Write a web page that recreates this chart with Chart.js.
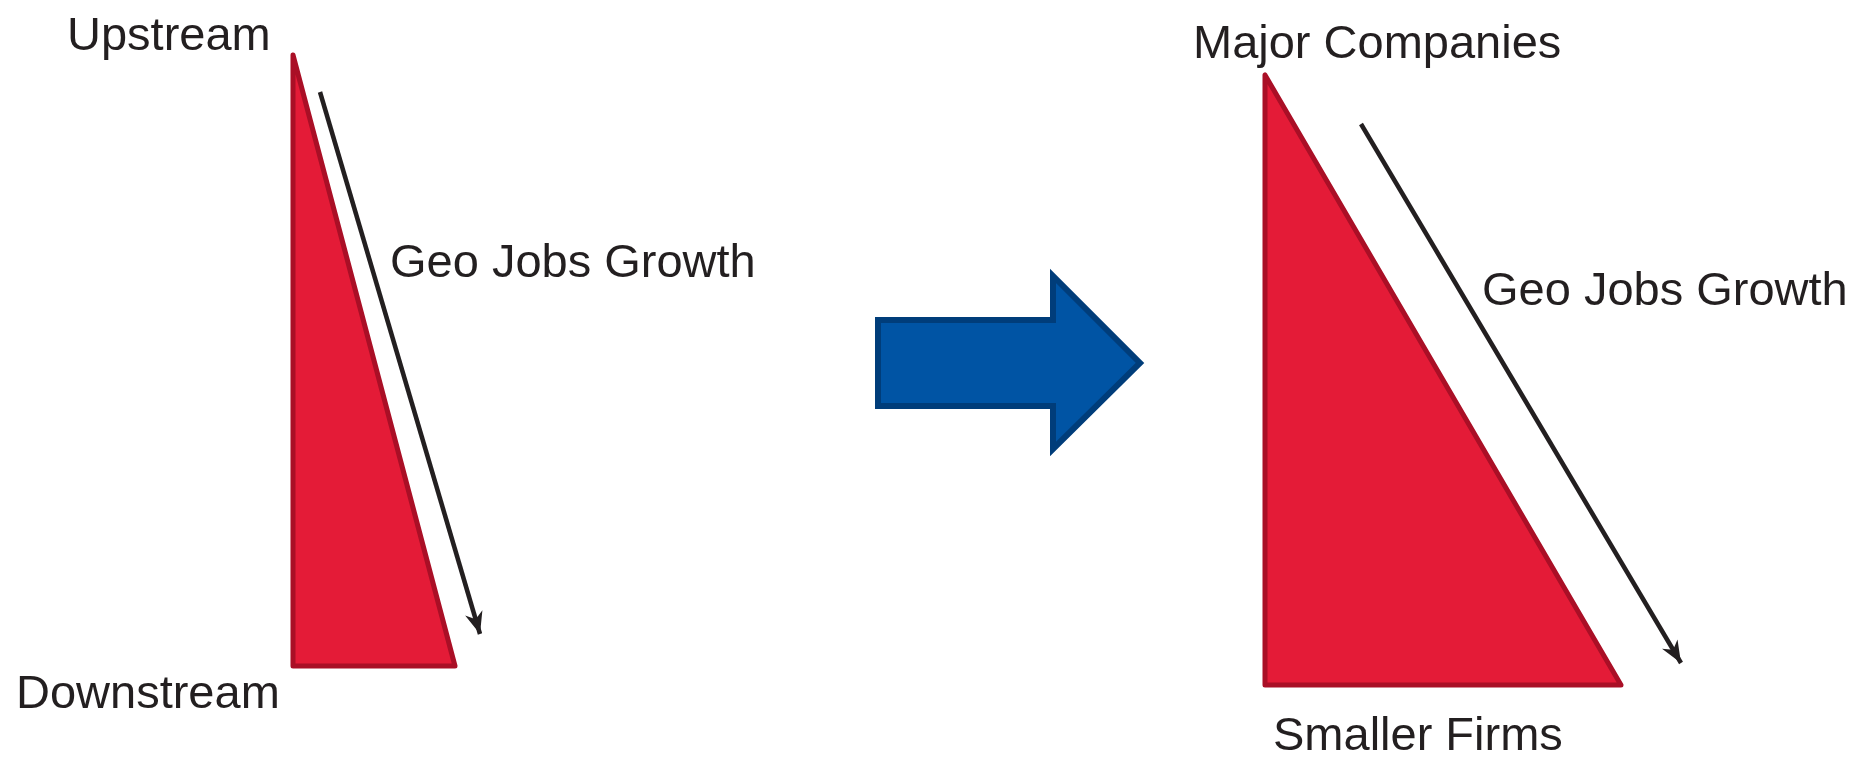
<!DOCTYPE html>
<html>
<head>
<meta charset="utf-8">
<script src="https://cdn.jsdelivr.net/npm/chart.js@4.4.0/dist/chart.umd.min.js"></script>
<style>
  html, body { margin: 0; padding: 0; background: #fff; overflow: hidden; }
</style>
</head>
<body>
<canvas id="diagram" width="1856" height="759"></canvas>
<script>
// Shapes (diagram units, y grows downward) ---------------------------
// outlines start and end mid-edge so every corner gets a proper join

const leftTriX = [293, 293, 455, 293, 293];
const leftTriY = [360, 666, 666, 55, 360];

const rightTriX = [1265, 1265, 1621, 1265, 1265];
const rightTriY = [380, 685, 685, 75, 380];

const leftArrowX = [320, 480];
const leftArrowY = [92, 634];

const rightArrowX = [1361, 1681];
const rightArrowY = [124, 663];

const blueArrowX = [878, 878, 1053, 1053, 1140, 1053, 1053, 878, 878];
const blueArrowY = [363, 320, 320, 276, 363, 449, 406, 406, 363];

// Labels ------------------------------------------------------------

const labelText = ['Upstream', 'Downstream', 'Geo Jobs Growth', 'Major Companies', 'Geo Jobs Growth', 'Smaller Firms'];
const labelX = [67, 16, 390, 1193, 1482, 1273];
const labelY = [50, 708, 277, 58, 305, 750];

function points(xs, ys) {
  return xs.map((x, i) => ({ x: x, y: ys[i] }));
}

// draws arrow heads at the end of datasets flagged with arrow: true
const arrowHeads = {
  id: 'arrowHeads',
  afterDatasetsDraw(chart) {
    const ctx = chart.ctx;
    chart.data.datasets.forEach((ds, i) => {
      if (!ds.arrow) return;
      const pts = chart.getDatasetMeta(i).data;
      const a = pts[pts.length - 2];
      const b = pts[pts.length - 1];
      const ang = Math.atan2(b.y - a.y, b.x - a.x);
      const c = Math.cos(ang), s = Math.sin(ang);
      const len = 22, half = 9;
      ctx.save();
      ctx.fillStyle = ds.borderColor;
      ctx.beginPath();
      ctx.moveTo(b.x, b.y);
      ctx.lineTo(b.x - len * c + half * s, b.y - len * s - half * c);
      ctx.lineTo(b.x - len * c * 0.7, b.y - len * s * 0.7);
      ctx.lineTo(b.x - len * c - half * s, b.y - len * s + half * c);
      ctx.closePath();
      ctx.fill();
      ctx.restore();
    });
  }
};

// text labels placed through the scales
const textLabels = {
  id: 'textLabels',
  afterDraw(chart) {
    const ctx = chart.ctx;
    const xs = chart.scales.x, ys = chart.scales.y;
    ctx.save();
    ctx.font = '47px "Liberation Sans", Arial, Helvetica, sans-serif';
    ctx.fillStyle = '#231f20';
    ctx.textAlign = 'left';
    ctx.textBaseline = 'alphabetic';
    labelText.forEach((t, i) => {
      ctx.fillText(t, xs.getPixelForValue(labelX[i]), ys.getPixelForValue(labelY[i]));
    });
    ctx.restore();
  }
};

const red = 'rgb(228, 27, 55)';
const redEdge = 'rgb(170, 15, 38)';
const ink = '#231f20';

const data = {
  datasets: [
    {
      label: 'left',
      data: points(leftTriX, leftTriY),
      backgroundColor: red,
      borderColor: redEdge,
      borderWidth: 5,
      borderJoinStyle: 'round',
      fill: 'shape',
      tension: 0
    },
    {
      label: 'right',
      data: points(rightTriX, rightTriY),
      backgroundColor: red,
      borderColor: redEdge,
      borderWidth: 5,
      borderJoinStyle: 'round',
      fill: 'shape',
      tension: 0
    },
    {
      label: 'shift',
      data: points(blueArrowX, blueArrowY),
      backgroundColor: 'rgb(0, 84, 164)',
      borderColor: 'rgb(0, 61, 122)',
      borderWidth: 6,
      borderJoinStyle: 'miter',
      fill: 'shape',
      tension: 0
    },
    {
      label: 'leftArrow',
      data: points(leftArrowX, leftArrowY),
      borderColor: ink,
      borderWidth: 4.5,
      fill: false,
      arrow: true
    },
    {
      label: 'rightArrow',
      data: points(rightArrowX, rightArrowY),
      borderColor: ink,
      borderWidth: 4.5,
      fill: false,
      arrow: true
    }
  ]
};

const config = {
  type: 'scatter',
  data,
  options: {
    responsive: false,
    animation: false,
    showLine: true,
    layout: { padding: 0 },
    elements: { point: { radius: 0, hoverRadius: 0 } },
    plugins: { legend: { display: false }, tooltip: { enabled: false } },
    scales: {
      x: { type: 'linear', min: 0, max: 1856, display: false },
      y: { type: 'linear', min: 0, max: 759, reverse: true, display: false }
    }
  },
  plugins: [arrowHeads, textLabels]
};

const diagram = new Chart(document.getElementById('diagram'), config);
</script>
</body>
</html>
